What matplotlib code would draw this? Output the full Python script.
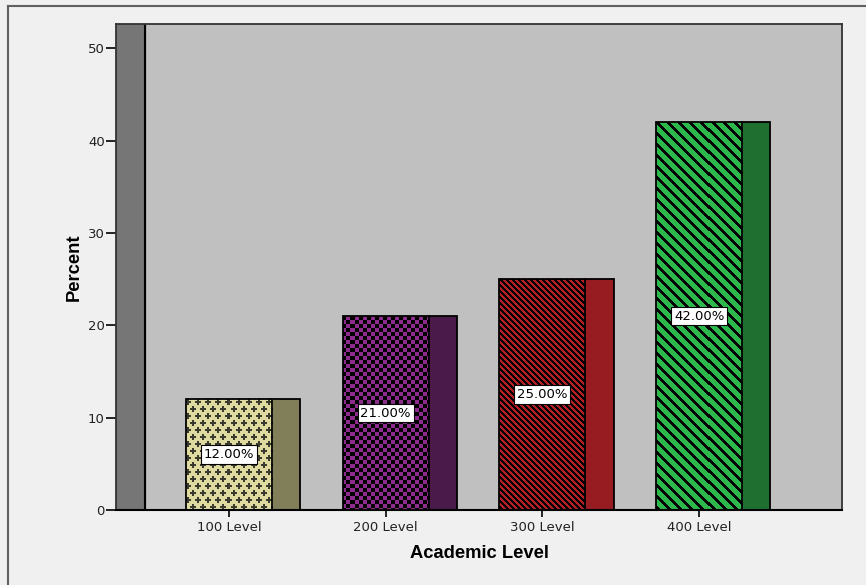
import numpy as np
import matplotlib
matplotlib.use("Agg")
import matplotlib.pyplot as plt
from matplotlib.colors import to_rgb
from matplotlib.lines import Line2D

# ---- data ----
categories = ["100 Level", "200 Level", "300 Level", "400 Level"]
percents = [12.0, 21.0, 25.0, 42.0]
value_labels = ["12.00%", "21.00%", "25.00%", "42.00%"]
front_colors = ["#dedaa0", "#8e2c8e", "#b41e24", "#2db84b"]
side_colors = ["#817f5a", "#4a1a4b", "#961c22", "#1f6f31"]
patterns = ["plus", "checker", "stripe_dense", "stripe_wide"]
yticks = [0, 10, 20, 30, 40, 50]

plt.rcParams['font.family'] = ['DejaVu Sans']

W, H, DPI = 866, 585, 100
fig = plt.figure(figsize=(W / DPI, H / DPI), dpi=DPI, facecolor="#f0f0f0")

# outer frame (left and top visible)
fig.add_artist(Line2D([8 / W, 8 / W], [0, 1 - 6 / H], color="#606060", lw=1.5,
                      transform=fig.transFigure))
fig.add_artist(Line2D([8 / W, 1], [1 - 6 / H, 1 - 6 / H], color="#606060", lw=1.5,
                      transform=fig.transFigure))

ax_l, ax_r, ax_t, ax_b = 116, 842, 24, 510
ax = fig.add_axes([ax_l / W, 1 - ax_b / H, (ax_r - ax_l) / W, (ax_b - ax_t) / H])
ax.set_facecolor("#c0c0c0")

pos = np.arange(len(categories))
front_w = 0.55
side_w = 0.18
wall_w = 0.185
xlim = (-0.721, 3.912)
ylim = (0, 52.65)
ax.set_xlim(*xlim)
ax.set_ylim(*ylim)

# left wall of the 3D frame
ax.axvspan(xlim[0], xlim[0] + wall_w, color="#767676", zorder=1)
ax.axvline(xlim[0] + wall_w, color="black", lw=1.5, zorder=1.5)

fronts = ax.bar(pos, percents, width=front_w, color=front_colors,
                edgecolor="none", zorder=2)
ax.bar(pos + front_w / 2 + side_w / 2, percents, width=side_w, color=side_colors,
       edgecolor="black", linewidth=1.3, zorder=2)

fig.canvas.draw()


def make_texture(kind, base, h, w):
    yy, xx = np.mgrid[0:h, 0:w]
    img = np.ones((h, w, 3)) * np.array(to_rgb(base))
    if kind == "plus":
        dark = np.array(to_rgb("#3a3a2e"))
        row = yy // 7
        ly = yy % 7
        lx = (xx + (row % 2) * 5) % 10
        mask = ((ly <= 5) & (lx >= 2) & (lx <= 3)) | \
               ((ly >= 2) & (ly <= 3) & (lx <= 5))
        img[mask] = dark
    elif kind == "checker":
        mask = ((xx // 4) + (yy // 4)) % 2 == 0
        img[mask] = 0.0
    elif kind == "stripe_dense":
        mask = ((xx - yy) % 6) < 3
        img[mask] = 0.0
    elif kind == "stripe_wide":
        mask = ((xx - yy) % 11) < 4
        img[mask] = 0.0
    return img


inv = ax.transData.inverted()
for patch, kind, base in zip(fronts.patches, patterns, front_colors):
    bb = patch.get_window_extent()
    px0, py0 = np.floor(bb.x0), np.floor(bb.y0)
    px1, py1 = np.ceil(bb.x1), np.ceil(bb.y1)
    w = int(px1 - px0)
    h = int(py1 - py0)
    tex = make_texture(kind, base, h, w)
    (dx0, dy0), (dx1, dy1) = inv.transform([(px0, py0), (px1, py1)])
    im = ax.imshow(tex, extent=(dx0, dx1, dy0, dy1),
                   interpolation="nearest", aspect="auto", zorder=2.2)
    im.set_clip_path(patch)

ax.bar(pos, percents, width=front_w, fill=False, edgecolor="black",
       linewidth=1.3, zorder=3)
ax.set_xlim(*xlim)
ax.set_ylim(*ylim)

for p, v, lab in zip(pos, percents, value_labels):
    ax.text(p, v / 2, lab, ha="center", va="center", fontsize=9.5, color="black",
            zorder=5,
            bbox=dict(boxstyle="square,pad=0.2", fc="white", ec="black", lw=0.8))

ax.set_xticks(pos)
ax.set_xticklabels(categories, fontsize=9.5, color="#222222")
ax.set_yticks(yticks)
ax.set_yticklabels([str(t) for t in yticks], fontsize=9.5, color="#222222")
ax.tick_params(axis="y", length=7, width=1.2, pad=1)
ax.tick_params(axis="x", length=5, width=1.2, pad=3)

for s in ax.spines.values():
    s.set_color("#333333")
    s.set_linewidth(1.3)
ax.spines["bottom"].set_color("black")
ax.spines["bottom"].set_linewidth(1.5)

ax.set_xlabel("Academic Level", fontsize=13.2, fontweight="bold", labelpad=8,
              family=["Liberation Sans"])
ax.set_ylabel("Percent", fontsize=13.2, fontweight="bold", labelpad=4,
              family=["Liberation Sans"])

fig.savefig("out.png", dpi=DPI, facecolor=fig.get_facecolor())
